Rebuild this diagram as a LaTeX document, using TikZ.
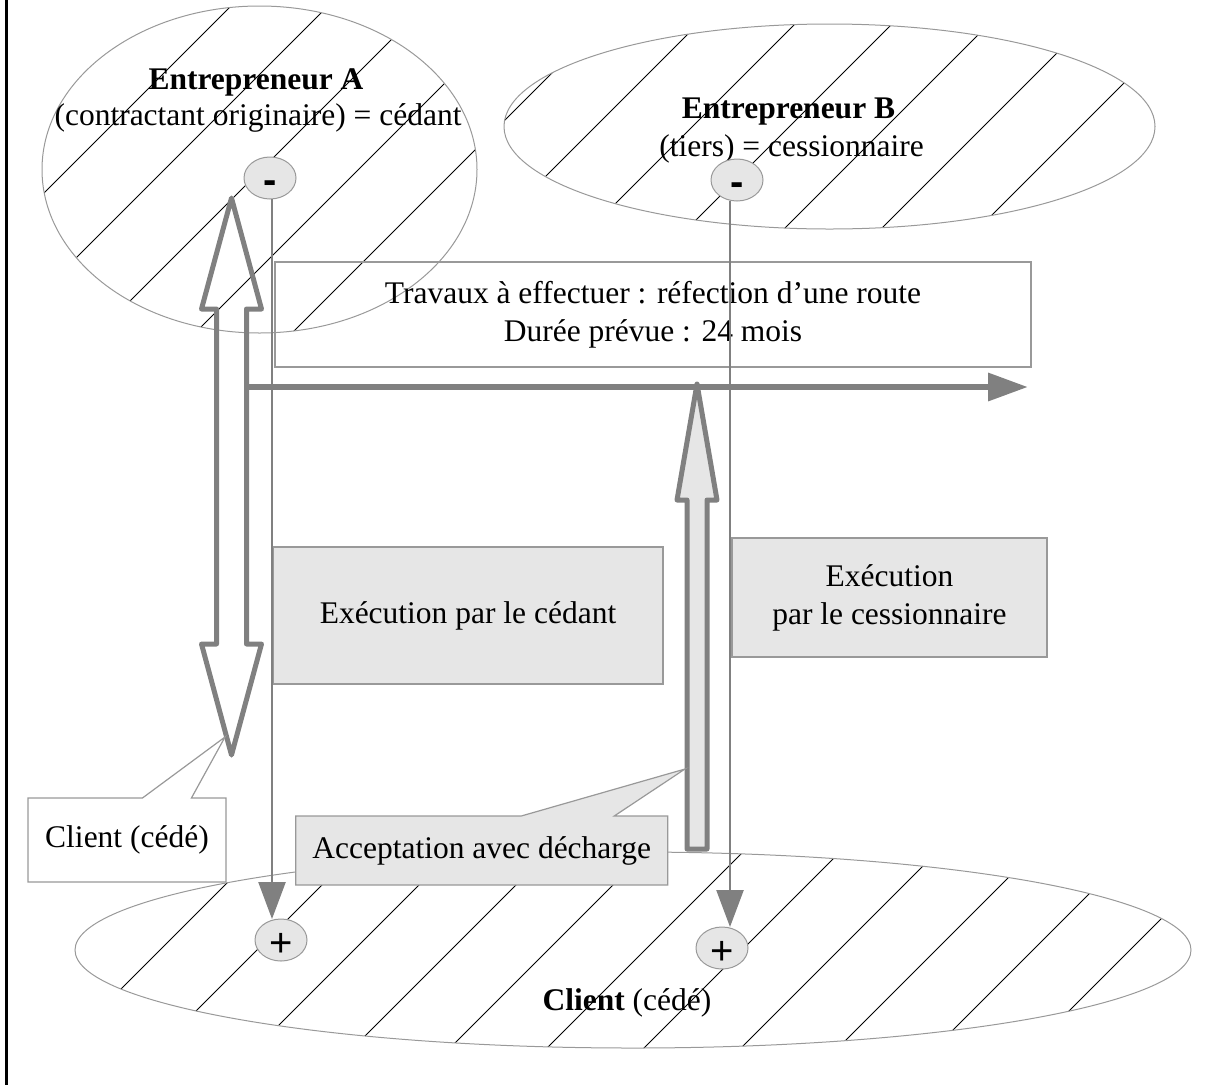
\documentclass[tikz,border=0pt]{standalone}
\usepackage{fontspec}
\setmainfont{Liberation Serif}
\newfontfamily\signfont{Liberation Sans}
\usetikzlibrary{arrows.meta,shapes.geometric,shapes.callouts}
\definecolor{linegray}{HTML}{808080}
\definecolor{boxgray}{HTML}{E6E6E6}
\definecolor{edgegray}{HTML}{999999}
% diagonal hatching shared by the three parties
\newcommand\hatchlines{%
  \foreach \k in {-3,...,22}{%
    \draw[hatch] ({237+97*\k+200},-200) -- ({237+97*\k-1400},1400);}}
% sign glyph lowered into the middle of its bubble, with no height of its own
\newcommand\signglyph[2]{\raisebox{-#1}[0pt][0pt]{#2}}
\begin{document}
\begin{tikzpicture}[x=1pt,y=-1pt,
  every node/.style={inner sep=0pt,outer sep=0pt},
  txt/.style={font=\fontsize{31.5}{38}\selectfont,anchor=base},
  zone/.style={ellipse,draw=edgegray,line width=1pt},
  hatch/.style={black,line width=0.9pt},
  sign/.style={ellipse,draw=edgegray,fill=boxgray,line width=1pt,
    minimum width=52pt,minimum height=42pt,
    font=\signfont\fontsize{40}{40}\selectfont},
  flow/.style={linegray,line width=2.5pt,-{Triangle[length=37pt,width=27pt]}},
  box/.style={rectangle,draw=edgegray,line width=1.2pt,align=center,
    font=\fontsize{31.5}{38}\selectfont},
  blockarrow/.style={draw=linegray,line width=5pt,line join=round},
  note/.style={rectangle callout,draw=edgegray,line width=1.2pt,align=center,
    font=\fontsize{31.5}{38}\selectfont},
]
\useasboundingbox (0,0) rectangle (1206,1085);

% centres of the three parties
\coordinate (cA) at (259.5,169.5);
\coordinate (cB) at (829.5,126.5);
\coordinate (cC) at (633,950);

% hatched parties
\begin{scope}
  \clip (cA) ellipse [x radius=217.5pt,y radius=163.5pt];
  \hatchlines
\end{scope}
\begin{scope}
  \clip (cB) ellipse [x radius=325.5pt,y radius=102.5pt];
  \hatchlines
\end{scope}
\begin{scope}
  \clip (cC) ellipse [x radius=558pt,y radius=98pt];
  \hatchlines
\end{scope}
\node[zone,minimum width=435pt,minimum height=327pt] (entA) at (cA) {};
\node[zone,minimum width=651pt,minimum height=205pt] (entB) at (cB) {};
\node[zone,minimum width=1116pt,minimum height=196pt] (client) at (cC) {};

\node[txt] (nameA) at (256,89) {\textbf{Entrepreneur A}};
\node[txt] (roleA) at (258,125) {(contractant originaire) = cédant};
\node[txt] (nameB) at (788.5,118) {\textbf{Entrepreneur B}};
\node[txt] (roleB) at (791.5,156) {(tiers) = cessionnaire};
\node[txt] (nameC) at (627,1010) {\textbf{Client} (cédé)};

% left frame line
\draw[black,line width=2.5pt] (6.5,0) -- (6.5,1085);

% works box
\node[box,minimum width=756pt,minimum height=105pt] (work) at (653,314.5)
  {Travaux à effectuer : réfection d’une route\\Durée prévue : 24 mois};

% execution boxes
\node[box,fill=boxgray,minimum width=390pt,minimum height=137pt] (execA)
  at (468,615.5) {Exécution par le cédant};
\node[box,fill=boxgray,minimum width=315pt,minimum height=119pt] (execB)
  at (889.5,597.5) {Exécution\\par le cessionnaire};

% hollow double arrow of the original contract
\draw[blockarrow] (231.5,198) -- (201.5,309) -- (216.5,309) -- (216.5,644)
  -- (201.5,644) -- (231.5,755) -- (261.5,644) -- (246.5,644)
  -- (246.5,309) -- (261.5,309) -- cycle;
\coordinate (tlStart) at (246.5,387);
\coordinate (tlEnd) at (1028,387);
\coordinate (tipL) at (225,737);

% time line
\draw[linegray,line width=6.5pt,-{Triangle[length=40pt,width=27pt]}] (tlStart) -- (tlEnd);

% transfer arrow
\draw[blockarrow,fill=boxgray] (687,849) -- (687,500) -- (677,500) -- (697,384)
  -- (717,500) -- (707,500) -- (707,849) -- cycle;
\coordinate (tipR) at (685,769);

% debtor / creditor signs
\node[sign] (mA) at (270,178) {\signglyph{15.5pt}{\textbf{-}}};
\node[sign] (mB) at (737,180) {\signglyph{15.5pt}{\textbf{-}}};
\node[sign] (pA) at (281,940) {\signglyph{16pt}{+}};
\node[sign] (pB) at (722,948) {\signglyph{16pt}{+}};

\coordinate (fa) at ([xshift=2pt]mA.south);
\coordinate (fb) at ([xshift=-7pt]mB.south);
\draw[flow] (fa) -- (fa |- pA.north);
\draw[flow] (fb) -- (fb |- pB.north);

% callouts
\node[note,fill=white,minimum width=198pt,minimum height=84pt,
  callout absolute pointer={(tipL)},callout pointer width=49pt] (noteA)
  at (127,840) {Client (cédé)};
\node[note,fill=boxgray,minimum width=372pt,minimum height=69pt,
  callout absolute pointer={(tipR)},callout pointer width=93pt] (noteB)
  at (481.7,850.5) {Acceptation avec décharge};
\end{tikzpicture}
\end{document}
